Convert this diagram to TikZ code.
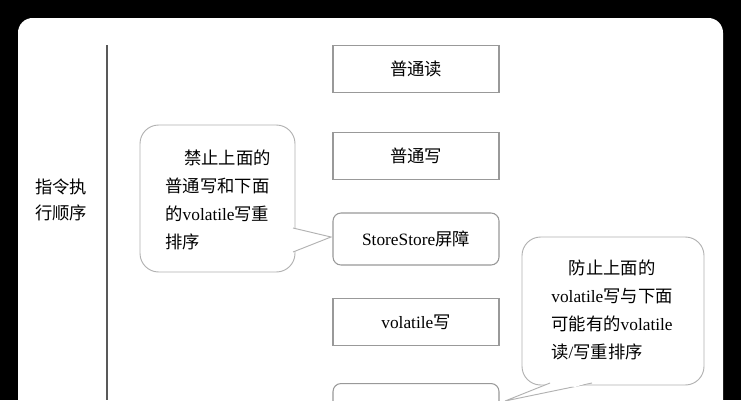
\documentclass[tikz,border=0pt]{standalone}
\usepackage{fontspec}
\setmainfont{Liberation Serif}
\newfontfamily\cjk{Noto Sans CJK SC}
\newcommand{\zh}[1]{{\cjk #1}}
\usetikzlibrary{positioning}
\tikzset{
  stepbox/.style={draw=gray!80, line width=0.8pt, minimum width=124.5pt, minimum height=35pt, font=\fontsize{13}{15}\selectfont},
  barrier/.style={stepbox, rounded corners=6pt},
  bubble/.style={draw=gray!60, line width=0.7pt, fill=white, rounded corners=14pt},
}
\begin{document}
\begin{tikzpicture}[x=0.75pt,y=-0.75pt]
  \fill[black] (0,0) rectangle (741,400);
  \clip (0,0) rectangle (741,400);
  \fill[white, rounded corners=11pt] (18,18) rectangle (723,430);
  \draw[line width=1pt, gray!70!black] (107,45) -- (107,400);
  \node[align=left, font=\fontsize{13}{20}\selectfont] (order) at (61,200) {\zh{指令执}\\\zh{行顺序}};
  % instruction sequence
  \node[stepbox] (read) at (416,69) {\zh{普通读}};
  \node[stepbox] (write) at (416,156) {\zh{普通写}};
  \node[barrier, minimum height=39pt] (ssbar) at (416,239) {StoreStore\zh{屏障}};
  \node[stepbox] (vwrite) at (416,322) {volatile\zh{写}};
  \node[barrier, minimum height=39pt, anchor=north] (slbar) at (416,383) {StoreLoad\zh{屏障}};
  % callouts
  \coordinate (ltip) at (331,237);
  \coordinate (rtip) at (505,401);
  \draw[bubble] (140,125) rectangle (295,272);
  \filldraw[draw=gray!60, fill=white, line width=0.7pt] (293,228) -- (ltip) -- (293,252);
  \fill[white] (291,229) -- (296,237) -- (291,251) -- cycle;
  \node[align=left, font=\fontsize{13}{21}\selectfont] (lnote) at (218,200)
    {\hspace{14pt}\zh{禁止上面的}\\\zh{普通写和下面}\\\zh{的}volatile\zh{写重}\\\zh{排序}};
  \draw[bubble] (522,237) rectangle (704,385);
  \filldraw[draw=gray!60, fill=white, line width=0.7pt] (550,383) -- (rtip) -- (592,383);
  \fill[white] (552,382) -- (575,387) -- (590,382) -- cycle;
  \node[align=left, font=\fontsize{13}{21}\selectfont] (rnote) at (612,310)
    {\hspace{13pt}\zh{防止上面的}\\volatile\zh{写与下面}\\\zh{可能有的}volatile\\\zh{读}/\zh{写重排序}};
\end{tikzpicture}
\end{document}
